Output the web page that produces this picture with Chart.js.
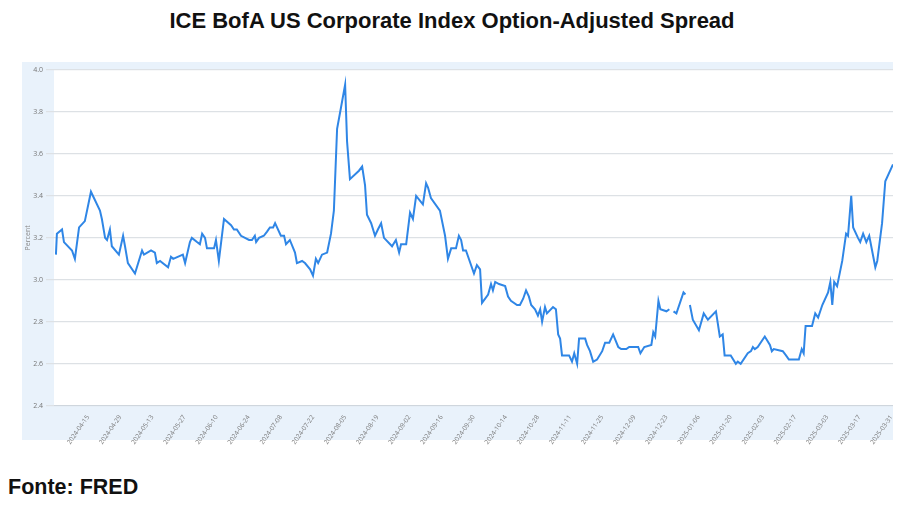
<!DOCTYPE html>
<html>
<head>
<meta charset="utf-8">
<script src="https://cdn.jsdelivr.net/npm/chart.js@4"></script>
<style>
  body { margin: 0; width: 904px; height: 508px; background: #fff; font-family: "Liberation Sans", Arial, sans-serif; position: relative; }
  h1 { position: absolute; top: 8px; left: 0; width: 904px; margin: 0; text-align: center; font-size: 22px; font-weight: bold; color: #111; }
  #bg { position: absolute; left: 22px; top: 62px; width: 871px; height: 378px; background: #e9f2fb; }
  #box { position: absolute; left: 22px; top: 62px; width: 871px; height: 384px; }
  .src { position: absolute; left: 8px; top: 475px; font-size: 21.5px; font-weight: bold; color: #111; }
</style>
</head>
<body>
<h1>ICE BofA US Corporate Index Option-Adjusted Spread</h1>
<div id="bg"></div>
<div id="box"><canvas id="c"></canvas></div>
<div class="src">Fonte: FRED</div>
<script>
// business-day index (0 = 2024-04-01) and spread in percent
const dayIdx = [0,0.3,1.9,2.5,5.0,5.9,7.2,9.0,10.9,13.7,14.3,15.3,15.9,16.8,17.4,19.6,20.9,21.5,22.4,24.6,26.8,27.4,29.6,30.8,31.4,32.4,34.9,35.8,36.5,39.5,40.2,41.7,42.3,43.9,44.8,45.5,46.4,47.0,49.2,49.8,50.7,52.3,54.5,55.4,56.3,57.6,60.1,61.0,61.9,62.3,63.2,64.7,65.7,66.6,67.6,68.2,70.0,71.0,71.6,72.8,74.4,75.0,76.6,77.5,79.1,80.0,80.9,81.6,82.8,84.4,85.6,86.5,87.5,88.7,90.0,90.6,91.5,94.3,95.3,96.2,96.8,98.1,99.3,100.2,101.2,102.1,104.6,105.8,106.8,107.4,109.0,110.2,111.1,112.1,114.2,115.2,115.8,116.7,119.5,121.1,122.0,123.0,124.5,125.4,126.1,126.7,127.6,130.1,131.0,132.0,132.6,134.5,135.4,136.0,136.7,137.9,139.8,140.7,141.6,143.5,144.4,145.4,146.3,147.2,147.9,149.1,150.0,150.7,151.3,152.2,152.8,154.7,155.6,156.3,156.9,157.5,159.7,160.6,161.3,162.2,162.8,164.7,165.3,166.2,167.2,168.4,170.0,170.9,172.2,173.4,175.0,175.9,177.5,178.4,181.2,181.9,183.1,185.3,185.9,186.5,187.5,188.1,190.0,190.9,191.5,192.2,193.1,195.3,195.9,196.6,197.3,198.2,200.1,201.6,202.9,205.4,206.6,207.5,208.1,210.0,211.6,212.2,213.1,215.3,216.3,216.9,217.5,218.4,220.6,222.2,222.8,223.4,226.2,227.2,228.1,231.2,232.1,232.7,233.3,235.3,236.3,237.2,238.5,240.3,241.0,241.6,242.2,243.1,244.7,245.9,246.5,247.5,248.1,249.6,250.3,251.2,252.2,253.1,255.0,255.6,257.1,258.1,260.5];
const spread = [3.12,3.22,3.24,3.18,3.14,3.10,3.25,3.28,3.42,3.33,3.29,3.20,3.19,3.24,3.16,3.12,3.21,3.16,3.08,3.03,3.14,3.12,3.14,3.13,3.08,3.09,3.06,3.11,3.10,3.12,3.08,3.18,3.20,3.18,3.17,3.22,3.20,3.15,3.15,3.19,3.09,3.29,3.26,3.24,3.24,3.21,3.19,3.19,3.21,3.18,3.20,3.21,3.23,3.25,3.25,3.27,3.21,3.21,3.17,3.19,3.13,3.08,3.09,3.08,3.05,3.02,3.10,3.08,3.12,3.13,3.22,3.33,3.72,3.82,3.93,3.66,3.48,3.52,3.54,3.45,3.31,3.27,3.21,3.24,3.27,3.20,3.16,3.19,3.13,3.17,3.17,3.32,3.29,3.40,3.36,3.46,3.44,3.39,3.33,3.21,3.10,3.15,3.15,3.21,3.19,3.14,3.14,3.03,3.07,3.05,2.89,2.93,2.98,2.95,2.99,2.98,2.97,2.92,2.90,2.88,2.88,2.91,2.95,2.92,2.88,2.86,2.83,2.86,2.80,2.87,2.84,2.87,2.86,2.74,2.72,2.64,2.64,2.61,2.65,2.60,2.72,2.72,2.69,2.66,2.61,2.62,2.66,2.70,2.70,2.74,2.68,2.67,2.67,2.68,2.68,2.65,2.68,2.69,2.75,2.73,2.90,2.86,2.85,2.86,null,2.85,2.84,2.94,2.93,null,2.88,2.81,2.76,2.84,2.81,2.85,2.73,2.74,2.64,2.64,2.60,2.61,2.60,2.65,2.66,2.68,2.67,2.68,2.73,2.69,2.66,2.67,2.66,2.64,2.62,2.62,2.67,2.65,2.78,2.78,2.84,2.82,2.88,2.94,2.99,2.88,2.99,2.97,3.09,3.22,3.21,3.40,3.25,3.20,3.18,3.22,3.18,3.21,3.06,3.09,3.27,3.47,3.55];
const tickLabels = ['2024-04-15','2024-04-29','2024-05-13','2024-05-27','2024-06-10','2024-06-24','2024-07-08','2024-07-22','2024-08-05','2024-08-19','2024-09-02','2024-09-16','2024-09-30','2024-10-14','2024-10-28','2024-11-11','2024-11-25','2024-12-09','2024-12-23','2025-01-06','2025-01-20','2025-02-03','2025-02-17','2025-03-03','2025-03-17','2025-03-31'];
const tickIdx = tickLabels.map((_, i) => 10 + i * 10);

const points = dayIdx.map((d, i) => ({ x: d, y: spread[i] }));

const plotBg = {
  id: 'plotBg',
  beforeDraw(chart) {
    const { ctx, chartArea: a } = chart;
    ctx.save();
    ctx.fillStyle = '#fff';
    ctx.fillRect(a.left, a.top, a.right - a.left, a.bottom - a.top);
    ctx.restore();
  }
};

new Chart(document.getElementById('c'), {
  type: 'line',
  data: {
    datasets: [{
      data: points,
      borderColor: '#2f86e6',
      borderWidth: 2,
      pointRadius: 0,
      tension: 0,
      spanGaps: false
    }]
  },
  options: {
    responsive: true,
    maintainAspectRatio: false,
    animation: false,
    layout: { padding: { top: 8, right: 0, bottom: 0 } },
    plugins: { legend: { display: false }, tooltip: { enabled: false } },
    scales: {
      x: {
        type: 'linear',
        min: -0.6,
        max: 260.5,
        afterBuildTicks: s => { s.ticks = tickIdx.map(v => ({ value: v })); },
        afterFit: s => { s.paddingRight = 0; },
        grid: { display: false },
        border: { color: '#cfd6dd' },
        ticks: {
          autoSkip: false,
          maxRotation: 55, minRotation: 55,
          padding: 0,
          color: '#777',
          font: { size: 6.5, family: 'Open Sans' },
          callback: v => tickLabels[tickIdx.indexOf(v)]
        }
      },
      y: {
        min: 2.4,
        max: 4.0,
        afterFit: s => { s.width = 32; },
        ticks: { stepSize: 0.2, color: '#777', font: { size: 7, family: 'Open Sans' }, callback: v => v.toFixed(1) },
        grid: { color: '#dde1e5', lineWidth: 1.2 },
        border: { display: false },
        title: { display: true, text: 'Percent', color: '#888', font: { size: 7, family: 'Open Sans' }, padding: 2 }
      }
    }
  },
  plugins: [plotBg]
});
</script>
</body>
</html>
